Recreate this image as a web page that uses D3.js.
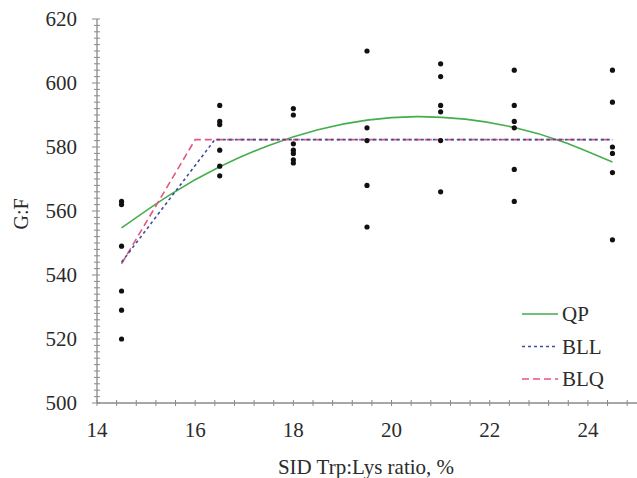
<!DOCTYPE html>
<html>
<head>
<meta charset="utf-8">
<script src="https://cdn.jsdelivr.net/npm/d3@7"></script>
<style>
  html, body { margin: 0; padding: 0; background: #fff; }
  svg { display: block; }
  text { font-family: "Liberation Serif", "Times New Roman", serif; }
</style>
</head>
<body>
<svg id="chart" width="637" height="478"></svg>
<script>
// Observed G:F per SID Trp:Lys level (one array per level)
const ratioLevels = [14.5, 16.5, 18, 19.5, 21, 22.5, 24.5];
const gf145 = [563, 562, 549, 535, 529, 520];
const gf165 = [593, 588, 587, 579, 574, 571];
const gf180 = [592, 590, 581, 579, 578, 576, 575];
const gf195 = [610, 586, 582, 568, 555];
const gf210 = [606, 602, 593, 591, 582, 566];
const gf225 = [604, 593, 588, 586, 573, 563];
const gf245 = [604, 594, 580, 578, 572, 551];
const gfByLevel = [gf145, gf165, gf180, gf195, gf210, gf225, gf245];

// Fitted response curves
const qpRatio = [14.5, 15.5, 16.5, 17.5, 18.5, 19.5, 20.5, 21.5, 22.5, 23.5, 24.5];
const qpGF    = [554.7, 565.2, 573.8, 580.5, 585.4, 588.4, 589.5, 588.7, 586.1, 581.6, 575.3];
const bllRatio = [14.5, 16.4, 24.5];
const bllGF    = [544, 582.3, 582.3];
const blqRatio = [14.5, 16.0, 24.5];
const blqGF    = [543.5, 582.3, 582.3];

// Axis ticks
const xTickLabels = [14, 16, 18, 20, 22, 24];
const yTickLabels = [500, 520, 540, 560, 580, 600, 620];

const legendItems = ["QP", "BLL", "BLQ"];

const svg = d3.select("#chart");
const axisColor = "#8a8a8a";
const textColor = "#2b2b2b";

const x = d3.scaleLinear().domain([14, 25]).range([97, 637]);
const y = d3.scaleLinear().domain([500, 620]).range([403, 19]);

// Y axis: major ticks at every 20, minor every 2
const yMinor = d3.range(500, 620.001, 2);
svg.append("g").selectAll("line").data(yMinor).join("line")
  .attr("x1", d => (d % 20 === 0) ? x(14) - 5 : x(14) - 3)
  .attr("x2", x(14) + 3)
  .attr("y1", d => y(d)).attr("y2", d => y(d))
  .attr("stroke", axisColor).attr("stroke-width", 1);
svg.append("line")
  .attr("x1", x(14)).attr("x2", x(14))
  .attr("y1", y(620)).attr("y2", y(500))
  .attr("stroke", axisColor).attr("stroke-width", 1.3);
svg.append("g").selectAll("text").data(yTickLabels).join("text")
  .attr("x", 77).attr("y", d => y(d))
  .attr("dy", "0.35em")
  .attr("text-anchor", "end")
  .attr("font-size", 21)
  .attr("fill", textColor)
  .text(d => d);

// X axis: labels at even ratios, minor ticks every 0.4
const xMinor = d3.range(0, 28).map(i => 14 + i * 0.4).filter(v => v <= 25);
svg.append("g").selectAll("line").data(xMinor).join("line")
  .attr("x1", d => x(d)).attr("x2", d => x(d))
  .attr("y1", y(500) - 3)
  .attr("y2", y(500) + 3)
  .attr("stroke", axisColor).attr("stroke-width", 1);
svg.append("line")
  .attr("x1", x(14)).attr("x2", x(25))
  .attr("y1", y(500)).attr("y2", y(500))
  .attr("stroke", axisColor).attr("stroke-width", 1.3);
svg.append("g").selectAll("text").data(xTickLabels).join("text")
  .attr("x", d => x(d)).attr("y", 437)
  .attr("text-anchor", "middle")
  .attr("font-size", 21)
  .attr("fill", textColor)
  .text(d => d);

// Axis titles
svg.append("text")
  .attr("x", 366).attr("y", 474)
  .attr("text-anchor", "middle")
  .attr("font-size", 21)
  .attr("fill", textColor)
  .text("SID Trp:Lys ratio, %");
svg.append("text")
  .attr("transform", "translate(28,214) rotate(-90)")
  .attr("text-anchor", "middle")
  .attr("font-size", 20)
  .attr("fill", textColor)
  .text("G:F");

// Fitted lines
const qpPts = qpRatio.map((r, i) => [r, qpGF[i]]);
const bllPts = bllRatio.map((r, i) => [r, bllGF[i]]);
const blqPts = blqRatio.map((r, i) => [r, blqGF[i]]);
const straight = d3.line().x(d => x(d[0])).y(d => y(d[1]));
const smooth = d3.line().x(d => x(d[0])).y(d => y(d[1])).curve(d3.curveNatural);

svg.append("path").datum(qpPts)
  .attr("d", smooth)
  .attr("fill", "none").attr("stroke", "#45ad4c").attr("stroke-width", 1.6);
svg.append("path").datum(blqPts)
  .attr("d", straight)
  .attr("fill", "none").attr("stroke", "#e4577f").attr("stroke-width", 1.6)
  .attr("stroke-dasharray", "7,4");
svg.append("path").datum(bllPts)
  .attr("d", straight)
  .attr("fill", "none").attr("stroke", "#3c4f9e").attr("stroke-width", 1.6)
  .attr("stroke-dasharray", "3,3");

// Observations
const obs = [];
ratioLevels.forEach((r, i) => gfByLevel[i].forEach(v => obs.push([r, v])));
svg.append("g").selectAll("circle").data(obs).join("circle")
  .attr("cx", d => x(d[0])).attr("cy", d => y(d[1]))
  .attr("r", 2.6).attr("fill", "#111");

// Legend
const legendStyles = [
  { stroke: "#45ad4c", dash: null },
  { stroke: "#3c4f9e", dash: "3,3" },
  { stroke: "#e4577f", dash: "7,4" }
];
const lg = svg.append("g").selectAll("g").data(legendItems).join("g")
  .attr("transform", (d, i) => `translate(0,${314 + i * 32.5})`);
lg.append("line")
  .attr("x1", 522).attr("x2", 558).attr("y1", 0).attr("y2", 0)
  .attr("stroke", (d, i) => legendStyles[i].stroke)
  .attr("stroke-width", 1.6)
  .attr("stroke-dasharray", (d, i) => legendStyles[i].dash);
lg.append("text")
  .attr("x", 562).attr("y", 0).attr("dy", "0.35em")
  .attr("font-size", 21)
  .attr("fill", textColor)
  .text(d => d);
</script>
</body>
</html>
